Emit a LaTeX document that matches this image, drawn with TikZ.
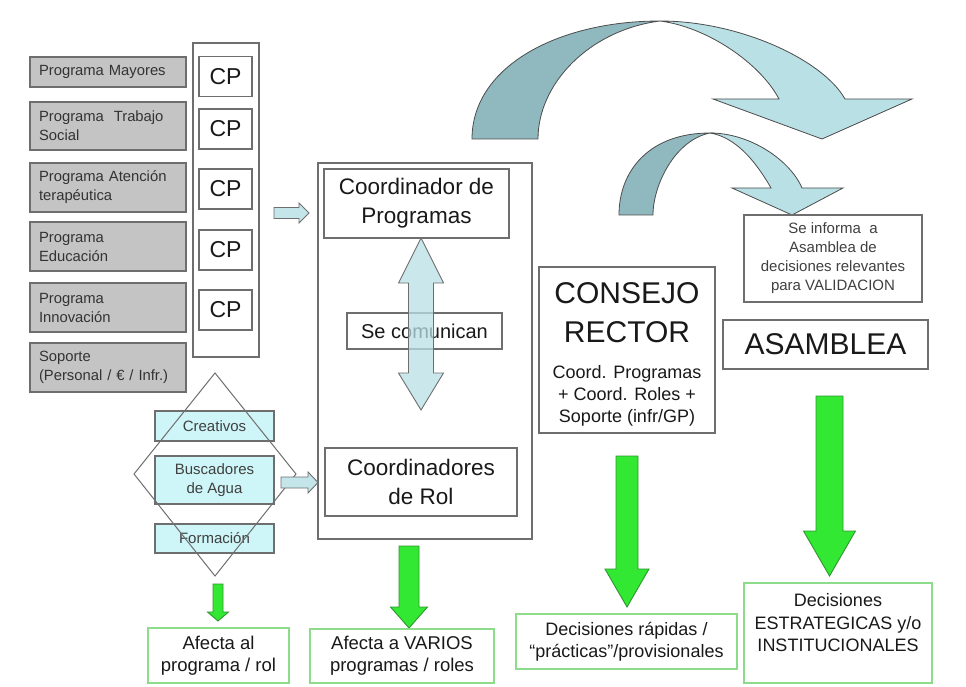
\documentclass[tikz,border=0pt]{standalone}
\usepackage{fontspec}
\setmainfont{Liberation Sans}
\definecolor{boxline}{RGB}{110,110,110}
\definecolor{grayfill}{RGB}{196,196,196}
\definecolor{cyanfill}{RGB}{206,245,247}
\definecolor{arrowcyan}{RGB}{196,230,234}
\definecolor{darkteal}{RGB}{143,185,191}
\definecolor{lightteal}{RGB}{185,224,229}
\definecolor{gfill}{RGB}{51,232,51}
\definecolor{gline}{RGB}{45,150,45}
\definecolor{gboxline}{RGB}{140,220,140}
\definecolor{txt}{RGB}{25,25,25}
\newcommand\dnblock[7]{\path[#1] ({#2-#6},#3) -- ({#2+#6},#3) -- ({#2+#6},#4) -- ({#2+#7},#4) -- (#2,#5) -- ({#2-#7},#4) -- ({#2-#6},#4) -- cycle;}
\newcommand\rtblock[7]{\path[#1] (#2,{#3-#6}) -- (#4,{#3-#6}) -- (#4,{#3-#7}) -- (#5,#3) -- (#4,{#3+#7}) -- (#4,{#3+#6}) -- (#2,{#3+#6}) -- cycle;}
\begin{document}
\begin{tikzpicture}[x=1pt,y=-1pt,
  box/.style={draw=boxline, line width=1.1pt, fill=white, inner sep=0pt, align=center, text=txt},
  graybox/.style={draw=boxline, line width=1.1pt, fill=grayfill, minimum width=156, text width=138, align=left, inner sep=0pt, font=\fontsize{14.8}{19}\selectfont, text=black!80},
  cbox/.style={draw=boxline, line width=1.1pt, fill=cyanfill, minimum width=119, inner sep=0pt, align=center, font=\fontsize{15}{19}\selectfont, text=black!75},
  greenbox/.style={draw=gboxline, line width=1.2pt, fill=white, inner sep=0pt, align=center, font=\fontsize{18.5}{22}\selectfont, text=txt},
  cparrow/.style={draw=boxline, line width=0.9pt, fill=arrowcyan},
  grarrow/.style={draw=gline, line width=0.9pt, fill=gfill},
  curvearrow/.style={draw=black!70, line width=0.8pt},
  cpbox/.style={box, minimum width=53, minimum height=40, font=\fontsize{23}{26}\selectfont}
]
\useasboundingbox (0,0) rectangle (966,687);
\fill[white] (0,0) rectangle (966,687);

% curved arrows
\path[curvearrow, fill=darkteal] (472,139) .. controls (472,67) and (557,21) .. (660,21) .. controls (590,30) and (538,83) .. (538,139) -- cycle;
\path[curvearrow, fill=lightteal] (660,21) .. controls (740,21) and (823,60) .. (845,99) -- (912,99) -- (822,139) -- (713,99) -- (779,99) .. controls (760,63) and (707,27) .. (660,21) -- cycle;
\path[curvearrow, fill=darkteal] (619,215) .. controls (619,170) and (650,133) .. (710,133) .. controls (675,140) and (653,185) .. (653,215) -- cycle;
\path[curvearrow, fill=lightteal] (710,133) .. controls (750,133) and (790,160) .. (802,188) -- (843,188) -- (792,215) -- (732,188) -- (771,188) .. controls (755,160) and (735,137) .. (710,133) -- cycle;

% left programme column
\node[graybox, minimum height=30] (pm) at (108,72) {Programa Mayores};
\node[graybox, minimum height=48] (pts) at (108,126) {Programa\ \ Trabajo\\Social};
\node[graybox, minimum height=49] (pat) at (108,187.5) {Programa Atención\\terapéutica};
\node[graybox, minimum height=49] (ped) at (108,246.5) {Programa\\Educación};
\node[graybox, minimum height=49] (pin) at (108,307.5) {Programa\\Innovación};
\node[graybox, minimum height=49] (sop) at (108,367.5) {Soporte\\(Personal / € / Infr.)};

\node[box, minimum width=66, minimum height=314] (cpcol) at (226,200) {};
\node[cpbox] (cp1) at (225.5,76.5) {CP};
\node[cpbox] (cp2) at (225.5,129) {CP};
\node[cpbox] (cp3) at (225.5,189) {CP};
\node[cpbox] (cp4) at (225.5,250) {CP};
\node[cpbox] (cp5) at (225.5,310) {CP};

\rtblock{cparrow}{274}{213}{299}{309}{5.5}{10}

% middle column
\node[box, minimum width=214, minimum height=376] (mid) at (425,351) {};
\node[box, minimum width=185, minimum height=69, font=\fontsize{22.5}{29}\selectfont] (cprog) at (416.5,203.5) {Coordinador de\\Programas};
\node[box, minimum width=155, minimum height=36, font=\fontsize{20}{24}\selectfont] (secom) at (424.5,331) {Se comunican};
\node[box, minimum width=192, minimum height=68, font=\fontsize{22.5}{29}\selectfont] (crol) at (421,482) {Coordinadores\\de Rol};
\path[draw=boxline, line width=0.9pt, fill=lightteal, fill opacity=0.75]
  (421,238) -- (443.5,283) -- (433.5,283) -- (433.5,373) -- (443.5,373) -- (421,410)
  -- (398.5,373) -- (408.5,373) -- (408.5,283) -- (398.5,283) -- cycle;

% roles
\node[cbox, minimum height=30] (crea) at (214.5,426) {Creativos};
\node[cbox, minimum height=48] (busc) at (214.5,480) {Buscadores\\de Agua};
\node[cbox, minimum height=29] (form) at (214.5,538.5) {Formación};
\coordinate (dT) at (215,373);
\coordinate (dR) at (296,474);
\coordinate (dB) at (215,576);
\coordinate (dL) at (134,474);
\draw[boxline, line width=1pt] (dT) -- (dR) -- (dB) -- (dL) -- cycle;
\rtblock{cparrow}{281}{482.5}{308}{318}{5.5}{10.5}

% consejo / asamblea
\node[box, minimum width=176, minimum height=166] (cr) at (627,350) {};
\node[align=center, text=txt, inner sep=0pt, font=\fontsize{30}{39}\selectfont] (crT) at (627,312.5) {CONSEJO\\RECTOR};
\node[align=center, text=txt, inner sep=0pt, font=\fontsize{18}{22}\selectfont] (crS) at (627,396) {Coord. Programas\\+ Coord. Roles +\\Soporte (infr/GP)};
\node[box, minimum width=178, minimum height=87, font=\fontsize{15}{19}\selectfont, text=black!75] (sinf) at (833,258.5) {Se informa\ \ a\\Asamblea de\\decisiones relevantes\\para VALIDACION};
\node[box, minimum width=205, minimum height=49, font=\fontsize{30}{34}\selectfont] (asam) at (825.5,344.5) {ASAMBLEA};

% green arrows
\dnblock{grarrow}{218}{584}{612}{621}{5}{10.5}
\dnblock{grarrow}{409}{546}{607}{628}{10}{18.5}
\dnblock{grarrow}{627}{456}{569}{607}{11}{22}
\dnblock{grarrow}{829.5}{396}{531}{576}{13.5}{26}

% bottom boxes
\node[greenbox, minimum width=141, minimum height=55] (af1) at (218.5,655.5) {Afecta al\\programa / rol};
\node[greenbox, minimum width=184, minimum height=54] (af2) at (402,656) {Afecta a VARIOS\\programas / roles};
\node[greenbox, minimum width=221, minimum height=55, font=\fontsize{18}{22}\selectfont] (drap) at (626.5,641.5) {Decisiones rápidas /\\“prácticas”/provisionales};
\node[greenbox, minimum width=188, minimum height=100] (dest) at (838,633) {};
\node[align=center, text=txt, inner sep=0pt, font=\fontsize{18}{22.5}\selectfont] (destT) at (838,623) {Decisiones\\ESTRATEGICAS y/o\\INSTITUCIONALES};
\end{tikzpicture}
\end{document}
